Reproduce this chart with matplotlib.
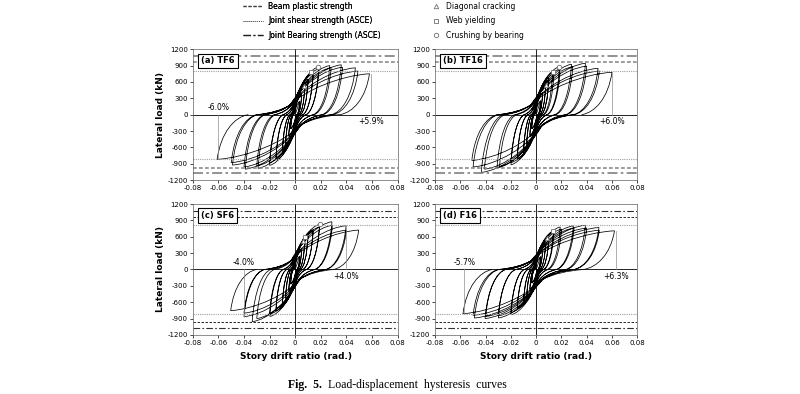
import numpy as np
import matplotlib
matplotlib.use("Agg")
import matplotlib.pyplot as plt
from matplotlib.path import Path
from matplotlib.patches import PathPatch
from matplotlib.lines import Line2D

# Data: cycle peaks (drift in rad., load in kN)
names = ["(a) TF6", "(b) TF16", "(c) SF6", "(d) F16"]

tf6_pos_drift = [0.0035, 0.0035, 0.005, 0.005, 0.0075, 0.0075, 0.01, 0.01, 0.014, 0.014,
                 0.0185, 0.0185, 0.027, 0.028, 0.036, 0.037, 0.047, 0.049, 0.058]
tf6_pos_load = [250, 240, 380, 360, 520, 500, 650, 620, 790, 750, 880, 840, 900, 860, 915, 870, 860, 800, 750]
tf6_neg_drift = [-0.0035, -0.0035, -0.005, -0.005, -0.0075, -0.0075, -0.01, -0.01, -0.015, -0.015,
                 -0.02, -0.02, -0.029, -0.03, -0.039, -0.04, -0.049, -0.05, -0.061]
tf6_neg_load = [-260, -250, -400, -380, -560, -530, -690, -650, -830, -790, -930, -880, -985, -940,
                -1000, -960, -925, -880, -820]

tf16_pos_drift = [0.0035, 0.0035, 0.005, 0.005, 0.0075, 0.0075, 0.01, 0.01, 0.013, 0.014,
                  0.0185, 0.019, 0.028, 0.029, 0.039, 0.04, 0.049, 0.05, 0.06]
tf16_pos_load = [260, 250, 400, 380, 550, 520, 680, 640, 777, 750, 882, 840, 925, 880, 943, 890, 850, 800, 777]
tf16_neg_drift = [-0.0035, -0.0035, -0.005, -0.005, -0.0075, -0.0075, -0.01, -0.01, -0.015, -0.015,
                  -0.02, -0.02, -0.029, -0.031, -0.041, -0.0435, -0.05, -0.051]
tf16_neg_load = [-260, -250, -400, -380, -560, -530, -700, -660, -830, -800, -920, -880, -950, -975,
                 -1000, -1060, -960, -840]

sf6_pos_drift = [0.0035, 0.0035, 0.005, 0.005, 0.0075, 0.0075, 0.01, 0.01, 0.014, 0.014,
                 0.019, 0.019, 0.0287, 0.029, 0.0398, 0.04, 0.0496]
sf6_pos_load = [250, 240, 380, 360, 520, 500, 620, 600, 730, 700, 827, 780, 876, 810, 803, 720, 724]
sf6_neg_drift = [-0.0035, -0.0035, -0.005, -0.005, -0.0075, -0.0075, -0.01, -0.01, -0.015, -0.015,
                 -0.0198, -0.02, -0.0336, -0.03, -0.04, -0.04, -0.0504]
sf6_neg_load = [-270, -260, -400, -380, -540, -520, -650, -620, -760, -720, -861, -820, -957, -900,
                -865, -800, -755]

f16_pos_drift = [0.0035, 0.0035, 0.005, 0.005, 0.0075, 0.0075, 0.01, 0.01, 0.0136, 0.014,
                 0.019, 0.02, 0.0294, 0.03, 0.039, 0.04, 0.0497, 0.05, 0.062]
f16_pos_load = [240, 230, 360, 340, 490, 470, 590, 560, 705, 680, 780, 740, 800, 760, 812, 760, 770, 720, 710]
f16_neg_drift = [-0.0035, -0.0035, -0.005, -0.005, -0.0075, -0.0075, -0.01, -0.01, -0.015, -0.015,
                 -0.02, -0.02, -0.03, -0.03, -0.0405, -0.04, -0.049, -0.05, -0.058]
f16_neg_load = [-250, -240, -380, -360, -510, -490, -620, -590, -720, -690, -830, -790, -890, -850,
                -900, -860, -890, -840, -810]

# reference strengths (kN)
beam_plastic = [970, 970, 970, 970]
joint_shear = [805, 805, 810, 810]
joint_bearing = [1068, 1068, 1065, 1065]

# final drift annotations: (drift, load at peak, label)
drift_notes = [
    [(-0.06, -820, "-6.0%"), (0.059, 750, "+5.9%")],
    [(0.06, 777, "+6.0%")],
    [(-0.04, -865, "-4.0%"), (0.04, 800, "+4.0%")],
    [(-0.057, -810, "-5.7%"), (0.063, 710, "+6.3%")],
]

# damage events: (drift, load)
diag_crack = [(0.0065, 520), (0.008, 550), (0.006, 520), (0.0083, 577)]
web_yield = [(0.012, 790), (0.013, 777), (0.0075, 600), (0.0136, 705)]
crushing = [(0.0175, 880), (0.0184, 882), (0.019, 827), None]

x_ticks = [-0.08, -0.06, -0.04, -0.02, 0, 0.02, 0.04, 0.06, 0.08]
y_ticks = [-1200, -900, -600, -300, 0, 300, 600, 900, 1200]

specimens = [
    (tf6_pos_drift, tf6_pos_load, tf6_neg_drift, tf6_neg_load),
    (tf16_pos_drift, tf16_pos_load, tf16_neg_drift, tf16_neg_load),
    (sf6_pos_drift, sf6_pos_load, sf6_neg_drift, sf6_neg_load),
    (f16_pos_drift, f16_pos_load, f16_neg_drift, f16_neg_load),
]


def unload_ratio(d):
    return min(0.6, 0.33 + 7 * abs(d))


def unload(d0, p0):
    u = d0 * unload_ratio(d0)
    return [(d0 + 0.12 * (u - d0), 0.4 * p0), (d0 + 0.55 * (u - d0), 0.05 * p0), (u, 0)], u


def hysteresis_path(pd, pl, nd, nl):
    # peaks in loading order
    peaks = []
    for i in range(len(pd)):
        peaks.append((pd[i], pl[i]))
        if i < len(nd):
            peaks.append((nd[i], nl[i]))
    verts = [(0, 0), peaks[0]]
    codes = [Path.MOVETO, Path.LINETO]
    for (d0, p0), (d1, p1) in zip(peaks[:-1], peaks[1:]):
        seg, u = unload(d0, p0)
        cx, pc = 0.15 * u, 0.22 * p1
        verts += seg
        # pinched slip towards zero drift
        verts += [(u + 0.4 * (cx - u), 0.03 * p1), (cx - 0.25 * (cx - u), 0.1 * p1), (cx, pc)]
        # reloading to the next peak
        verts += [(cx + 0.2 * (d1 - cx), pc + 0.5 * (p1 - pc)), (d1 - 0.35 * (d1 - cx), p1 - 0.05 * (p1 - pc)),
                  (d1, p1)]
        codes += [Path.CURVE4] * 9
    seg, u = unload(*peaks[-1])
    verts += seg
    codes += [Path.CURVE4] * 3
    return Path(verts, codes)


fig = plt.figure(figsize=(8, 3.94), dpi=100)
positions = [[0.241, 0.543, 0.256, 0.332], [0.544, 0.543, 0.2525, 0.332],
             [0.241, 0.150, 0.256, 0.332], [0.544, 0.150, 0.2525, 0.332]]

for k, (name, spec) in enumerate(zip(names, specimens)):
    ax = fig.add_axes(positions[k])
    ax.set_xlim(-0.08, 0.08)
    ax.set_ylim(-1200, 1200)
    ref_col = "#7f7f7f" if k < 2 else "#303030"
    ref_lw = 1.2 if k < 2 else 0.8
    for s in (1, -1):
        ax.axhline(s * joint_bearing[k], color=ref_col, lw=ref_lw, dashes=(6, 2, 1.5, 2))
        ax.axhline(s * beam_plastic[k], color=ref_col, lw=ref_lw * 0.9, dashes=(2.5, 1.5))
        ax.axhline(s * joint_shear[k], color="#a0a0a0", lw=0.8, dashes=(1, 1))
    ax.axhline(0, color="black", lw=0.6)
    ax.axvline(0, color="black", lw=0.6)

    ax.add_patch(PathPatch(hysteresis_path(*spec), fill=False, ec="black", lw=0.55))

    for d, p, txt in drift_notes[k]:
        ax.plot([d, d], [0, p], color="#909090", lw=0.5)
        if p < 0:
            ax.text(d, 40, txt, ha="center", va="bottom", fontsize=5.5)
        else:
            ax.text(d, -45, txt, ha="center", va="top", fontsize=5.5)

    for pts, m in ((diag_crack, "^"), (web_yield, "s"), (crushing, "o")):
        if pts[k] is not None:
            ax.plot(pts[k][0], pts[k][1], marker=m, ms=3.2, mfc="white", mec="#707070", mew=0.6, ls="none")

    ax.text(0.04, 0.945, name, transform=ax.transAxes, ha="left", va="top", fontsize=6, fontweight="bold",
            bbox=dict(boxstyle="square,pad=0.35", fc="white", ec="black", lw=0.8))

    ax.set_xticks(x_ticks)
    ax.set_xticklabels([f"{v:g}" for v in x_ticks])
    ax.set_yticks(y_ticks)
    ax.set_yticklabels([f"{v:g}" for v in y_ticks])
    ax.tick_params(labelsize=5, length=2, width=0.5, pad=1.5, direction="out")
    for sp in ax.spines.values():
        sp.set_linewidth(0.5)
        sp.set_color("#606060")

fig.text(0.2, 0.709, "Lateral load (kN)", rotation=90, ha="center", va="center", fontsize=6.5, fontweight="bold")
fig.text(0.2, 0.316, "Lateral load (kN)", rotation=90, ha="center", va="center", fontsize=6.5, fontweight="bold")
fig.text(0.37, 0.094, "Story drift ratio (rad.)", ha="center", va="center", fontsize=6.5, fontweight="bold")
fig.text(0.67, 0.094, "Story drift ratio (rad.)", ha="center", va="center", fontsize=6.5, fontweight="bold")

fig.text(0.36, 0.023, "Fig.  5.", ha="left", va="center", fontsize=8.5, fontweight="bold",
         family="Liberation Serif")
fig.text(0.41, 0.023, "Load-displacement  hysteresis  curves", ha="left", va="center", fontsize=8.5,
         family="Liberation Serif")

line_handles = [
    Line2D([], [], color="#404040", lw=0.9, dashes=(2.5, 1.5)),
    Line2D([], [], color="#606060", lw=0.7, dashes=(1, 1)),
    Line2D([], [], color="#202020", lw=0.9, dashes=(6, 2, 1.5, 2)),
]
leg1 = fig.legend(line_handles, ["Beam plastic strength", "Joint shear strength (ASCE)",
                                 "Joint Bearing strength (ASCE)"],
                  loc="upper left", bbox_to_anchor=(0.302, 1.0), frameon=False, fontsize=5.5,
                  handlelength=2.6, handletextpad=0.7, labelspacing=0.75, borderpad=0.2, borderaxespad=0)
mk = dict(ls="none", mfc="white", mec="#707070", mew=0.6, ms=3.2)
marker_handles = [Line2D([], [], marker="^", **mk), Line2D([], [], marker="s", **mk),
                  Line2D([], [], marker="o", **mk)]
fig.legend(marker_handles, ["Diagonal cracking", "Web yielding", "Crushing by bearing"],
           loc="upper left", bbox_to_anchor=(0.538, 1.0), frameon=False, fontsize=5.5,
           handlelength=1.0, handletextpad=0.9, labelspacing=0.75, borderpad=0.2, borderaxespad=0)
fig.add_artist(leg1)

fig.savefig("out.png", dpi=100)
